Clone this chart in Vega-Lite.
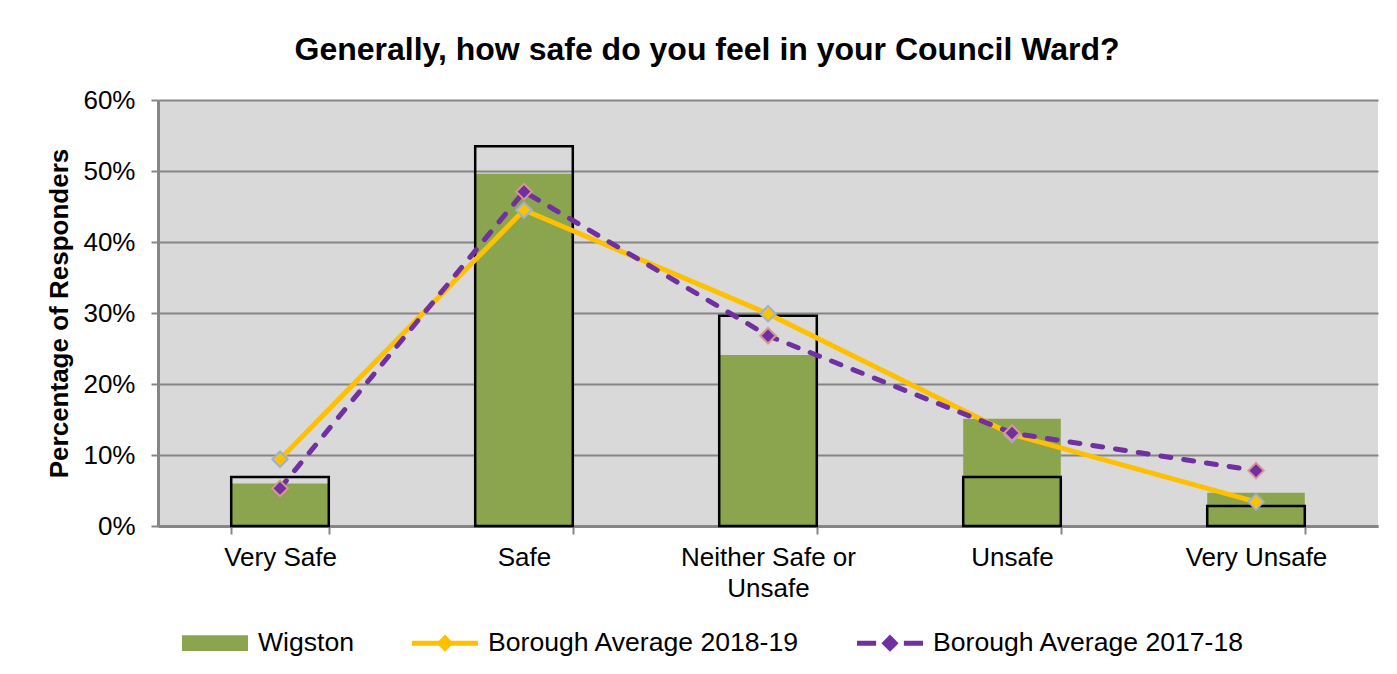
{
  "$schema": "https://vega.github.io/schema/vega-lite/v6.json",
  "width": 1220,
  "height": 426,
  "autosize": {"type": "none"},
  "padding": {"left": 158, "top": 100, "right": 19, "bottom": 148},
  "background": "white",
  "title": {
    "text": "Generally, how safe do you feel in your Council Ward?",
    "font": "Liberation Sans",
    "fontSize": 32,
    "fontWeight": "bold",
    "color": "black",
    "anchor": "middle",
    "frame": "group",
    "dx": -61,
    "offset": 20
  },
  "data": {
    "values": [
      {"category": "Very Safe", "series": "Wigston", "value": 0.060},
      {"category": "Safe", "series": "Wigston", "value": 0.496},
      {"category": "Neither Safe or Unsafe", "series": "Wigston", "value": 0.241},
      {"category": "Unsafe", "series": "Wigston", "value": 0.151},
      {"category": "Very Unsafe", "series": "Wigston", "value": 0.047},
      {"category": "Very Safe", "series": "Previous", "value": 0.069},
      {"category": "Safe", "series": "Previous", "value": 0.535},
      {"category": "Neither Safe or Unsafe", "series": "Previous", "value": 0.296},
      {"category": "Unsafe", "series": "Previous", "value": 0.069},
      {"category": "Very Unsafe", "series": "Previous", "value": 0.028},
      {"category": "Very Safe", "series": "Borough Average 2018-19", "value": 0.094},
      {"category": "Safe", "series": "Borough Average 2018-19", "value": 0.445},
      {"category": "Neither Safe or Unsafe", "series": "Borough Average 2018-19", "value": 0.299},
      {"category": "Unsafe", "series": "Borough Average 2018-19", "value": 0.129},
      {"category": "Very Unsafe", "series": "Borough Average 2018-19", "value": 0.034},
      {"category": "Very Safe", "series": "Borough Average 2017-18", "value": 0.053},
      {"category": "Safe", "series": "Borough Average 2017-18", "value": 0.471},
      {"category": "Neither Safe or Unsafe", "series": "Borough Average 2017-18", "value": 0.268},
      {"category": "Unsafe", "series": "Borough Average 2017-18", "value": 0.131},
      {"category": "Very Unsafe", "series": "Borough Average 2017-18", "value": 0.078}
    ]
  },
  "encoding": {
    "x": {
      "field": "category",
      "type": "nominal",
      "sort": ["Very Safe", "Safe", "Neither Safe or Unsafe", "Unsafe", "Very Unsafe"],
      "scale": {"paddingInner": 0.6, "paddingOuter": 0.3},
      "axis": {
        "title": null,
        "labelAngle": 0,
        "tickBand": "extent",
        "grid": false,
        "domainColor": "#868686",
        "domainWidth": 3,
        "tickColor": "#868686",
        "tickWidth": 2,
        "tickSize": 8,
        "labelFont": "Liberation Sans",
        "labelFontSize": 26,
        "labelColor": "black",
        "labelPadding": 10,
        "labelLimit": 0,
        "labelLineHeight": 31,
        "labelExpr": "datum.label == 'Neither Safe or Unsafe' ? ['Neither Safe or', 'Unsafe'] : datum.label"
      }
    },
    "y": {
      "field": "value",
      "type": "quantitative",
      "scale": {"domain": [0, 0.6], "nice": false},
      "axis": {
        "title": "Percentage of Responders",
        "titleFont": "Liberation Sans",
        "titleFontSize": 26,
        "titleFontWeight": "bold",
        "titleColor": "black",
        "titleX": -86,
        "titleY": 213,
        "titleAngle": 270,
        "titleBaseline": "bottom",
        "titleAlign": "center",
        "format": ".0%",
        "values": [0, 0.1, 0.2, 0.3, 0.4, 0.5, 0.6],
        "grid": true,
        "gridColor": "#868686",
        "gridWidth": 2,
        "domainColor": "#868686",
        "domainWidth": 3,
        "tickColor": "#868686",
        "tickWidth": 2,
        "tickSize": 7,
        "labelFont": "Liberation Sans",
        "labelFontSize": 26,
        "labelColor": "black",
        "labelPadding": 16
      }
    }
  },
  "layer": [
    {
      "transform": [{"filter": "datum.series == 'Wigston'"}],
      "mark": {"type": "bar"},
      "encoding": {
        "y": {"field": "value", "type": "quantitative", "stack": null},
        "color": {
          "field": "series",
          "type": "nominal",
          "scale": {
            "domain": ["Wigston", "Borough Average 2018-19", "Borough Average 2017-18"],
            "range": ["#8AA54E", "#FFC000", "#7030A0"]
          },
          "legend": {
            "title": null,
            "orient": "none",
            "legendX": 24,
            "legendY": 510,
            "direction": "horizontal",
            "columns": 3,
            "columnPadding": 57,
            "padding": 0,
            "labelOffset": 10,
            "labelFont": "Liberation Sans",
            "labelFontSize": 26.6,
            "labelColor": "black",
            "labelLimit": 0,
            "symbolSize": 4356,
            "encode": {
              "symbols": {
                "update": {
                  "shape": {"signal": "datum.value === 'Wigston' ? 'M-1,-0.24H1V0.24H-1Z' : datum.value === 'Borough Average 2018-19' ? 'M-1,-0.076H1V0.076H-1Z M0,-0.26L0.26,0L0,0.26L-0.26,0Z' : 'M-1,-0.076H-0.42V0.076H-1Z M0.42,-0.076H1V0.076H0.42Z M0,-0.26L0.26,0L0,0.26L-0.26,0Z'"},
                  "size": {"value": 4356},
                  "fill": {"scale": "color", "field": "value"},
                  "fillOpacity": {"value": 1},
                  "opacity": {"value": 1},
                  "stroke": {"value": "transparent"},
                  "strokeWidth": {"value": 0}
                }
              }
            }
          }
        }
      }
    },
    {
      "transform": [{"filter": "datum.series == 'Previous'"}],
      "mark": {"type": "bar", "fill": null, "fillOpacity": 0, "stroke": "black", "strokeWidth": 2.5},
      "encoding": {
        "y": {"field": "value", "type": "quantitative", "stack": null}
      }
    },
    {
      "transform": [{"filter": "datum.series == 'Borough Average 2018-19'"}],
      "mark": {"type": "line", "strokeWidth": 5, "strokeCap": "round", "strokeJoin": "round"},
      "encoding": {
        "color": {"field": "series", "type": "nominal"}
      }
    },
    {
      "transform": [{"filter": "datum.series == 'Borough Average 2018-19'"}],
      "mark": {"type": "point", "shape": "diamond", "filled": true, "fill": "#FFC000", "stroke": "#95B3D7", "strokeWidth": 2, "size": 240, "opacity": 1}
    },
    {
      "transform": [{"filter": "datum.series == 'Borough Average 2017-18'"}],
      "mark": {"type": "line", "strokeWidth": 5, "strokeCap": "round", "strokeJoin": "round", "strokeDash": [10, 13]},
      "encoding": {
        "color": {"field": "series", "type": "nominal"}
      }
    },
    {
      "transform": [{"filter": "datum.series == 'Borough Average 2017-18'"}],
      "mark": {"type": "point", "shape": "diamond", "filled": true, "fill": "#7030A0", "stroke": "#D99694", "strokeWidth": 2, "size": 240, "opacity": 1}
    }
  ],
  "config": {
    "view": {"fill": "#D9D9D9", "stroke": null}
  }
}
